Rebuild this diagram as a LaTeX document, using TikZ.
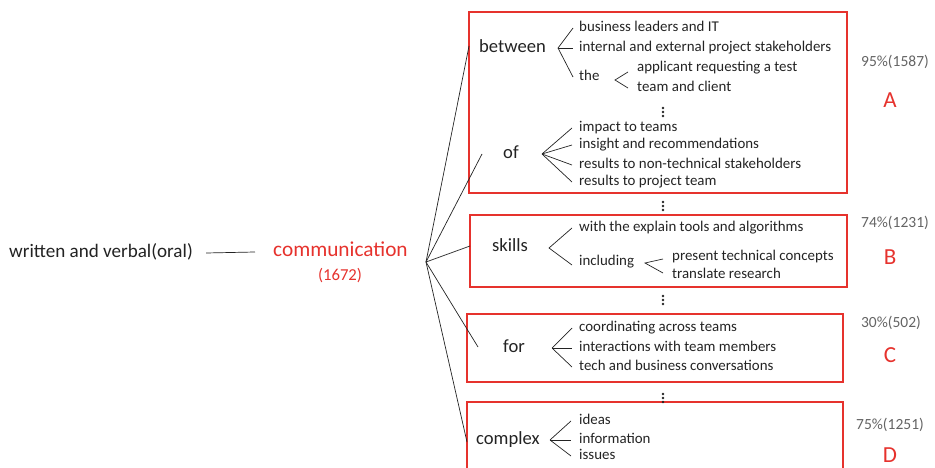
\documentclass[tikz,border=0pt]{standalone}
\usepackage{fontspec}
\setmainfont{Carlito}
\definecolor{commred}{RGB}{230,50,45}
\definecolor{pctgray}{RGB}{100,100,100}
\definecolor{inkgray}{RGB}{35,35,35}

\begin{document}
\begin{tikzpicture}[x=1pt,y=-1pt,
		item/.style={anchor=west,inner sep=0pt,text height=7pt,text depth=0pt,text=inkgray,font=\fontsize{14.9}{16}\selectfont},
		head/.style={anchor=west,inner sep=0pt,text height=8.7pt,text depth=0pt,text=inkgray,font=\fontsize{18.6}{20}\selectfont},
		box/.style={draw=commred,line width=1.4pt},
		fan/.style={draw=inkgray,line width=0.7pt},
		pct/.style={inner sep=0pt,text=pctgray,font=\fontsize{15.5}{17}\selectfont},
		letter/.style={inner sep=0pt,text=commred,font=\fontsize{23}{25}\selectfont}]
				\useasboundingbox (0,0) rectangle (935,468);
				%left side
				\node[head,text height=8.9pt,font=\fontsize{19.1}{21}\selectfont] (wv) at (9,253) {written and verbal(oral)};
				\node[head,text height=9.9pt,text=commred,font=\fontsize{21.3}{23}\selectfont] (comm) at (273,252) {communication};
				\node[inner sep=0pt,text=commred,font=\fontsize{16.7}{18}\selectfont] (cnt) at (340,276) {(1672)};
				\draw[fan] ([xshift=13pt]wv.east) -- ([xshift=-18pt]comm.west);
				%boxes
				\draw[box] (469,12) rectangle (847,193);
				\draw[box] (470,215) rectangle (847,287);
				\draw[box] (467,314) rectangle (843,382);
				\draw[box] (467,468) |- (843,402) -- (843,468);
				%fan from communication
				\coordinate (hub) at (426,262);
				\coordinate (fA) at (469,46);
				\coordinate (fO) at (482,154);
				\coordinate (fB) at (470,246);
				\coordinate (fC) at (478,347);
				\coordinate (fD) at (467,442);
				\foreach \e in {fA,fO,fB,fC,fD}
					\draw[fan] (hub) -- (\e);
				%between
				\node[head] (bw) at (479,48) {between};
				\node[item] (bw1) at (579,28) {business leaders and IT};
				\node[item] (bw2) at (579,48) {internal and external project stakeholders};
				\node[item] (bw3) at (579,77) {the};
				\coordinate (bwx) at (558,48);
				\foreach \t in {bw1,bw2,bw3}
					\draw[fan] (bwx) -- ([xshift=-6pt]\t.west);
				\node[item] (th1) at (637,68) {applicant requesting a test};
				\node[item] (th2) at (637,88) {team and client};
				\coordinate (thx) at (615,80);
				\draw[fan] ([xshift=-9pt,yshift=-4pt]th1.west) -- (thx) -- ([xshift=-9pt]th2.west);
				%of
				\node[head] (of) at (503,154) {of};
				\node[item] (of1) at (579,128) {impact to teams};
				\node[item] (of2) at (579,145) {insight and recommendations};
				\node[item] (of3) at (579,165) {results to non-technical stakeholders};
				\node[item] (of4) at (579,182) {results to project team};
				\coordinate (ofx) at (542,154);
				\foreach \t in {of1,of2,of3,of4}
					\draw[fan] (ofx) -- ([xshift=-7pt]\t.west);
				%skills
				\node[head] (sk) at (492,247) {skills};
				\node[item] (sk1) at (579,228) {with the explain tools and algorithms};
				\node[item] (sk2) at (579,262) {including};
				\coordinate (skx) at (549,248);
				\draw[fan] ([xshift=-7pt]sk1.west) -- (skx) -- ([xshift=-7pt,yshift=-3pt]sk2.west);
				\node[item] (in1) at (672,257) {present technical concepts};
				\node[item] (in2) at (672,275) {translate research};
				\coordinate (inx) at (645,263);
				\draw[fan] ([xshift=-9pt,yshift=-2pt]in1.west) -- (inx) -- ([xshift=-9pt,yshift=2pt]in2.west);
				%for
				\node[head] (fr) at (503,348) {for};
				\node[item] (fr1) at (579,328) {coordinating across teams};
				\node[item] (fr2) at (579,348) {interactions with team members};
				\node[item] (fr3) at (579,367) {tech and business conversations};
				\coordinate (frx) at (552,348);
				\foreach \t in {fr1,fr2,fr3}
					\draw[fan] (frx) -- ([xshift=-7pt]\t.west);
				%complex
				\node[head] (cx) at (476,440) {complex};
				\node[item] (cx1) at (579,421) {ideas};
				\node[item] (cx2) at (579,440) {information};
				\node[item] (cx3) at (579,456) {issues};
				\coordinate (cxx) at (550,440);
				\foreach \t in {cx1,cx2,cx3}
					\draw[fan] (cxx) -- ([xshift=-8pt]\t.west);
				%vertical dots
				\foreach \y in {112,206,300,398}
					\foreach \d in {-4,0,4}
						\fill[inkgray] (663,\y+\d) circle (1.3);
				%percentages and letters
				\node[pct] (pA) at (895,62) {95\%(1587)};
				\node[letter] (lA) at (890,100) {A};
				\node[pct] (pB) at (895,223) {74\%(1231)};
				\node[letter] (lB) at (890,257) {B};
				\node[pct] (pC) at (891,323) {30\%(502)};
				\node[letter] (lC) at (890,355) {C};
				\node[pct] (pD) at (890,425) {75\%(1251)};
				\node[letter] (lD) at (890,455) {D};
			\end{tikzpicture}
\end{document}
